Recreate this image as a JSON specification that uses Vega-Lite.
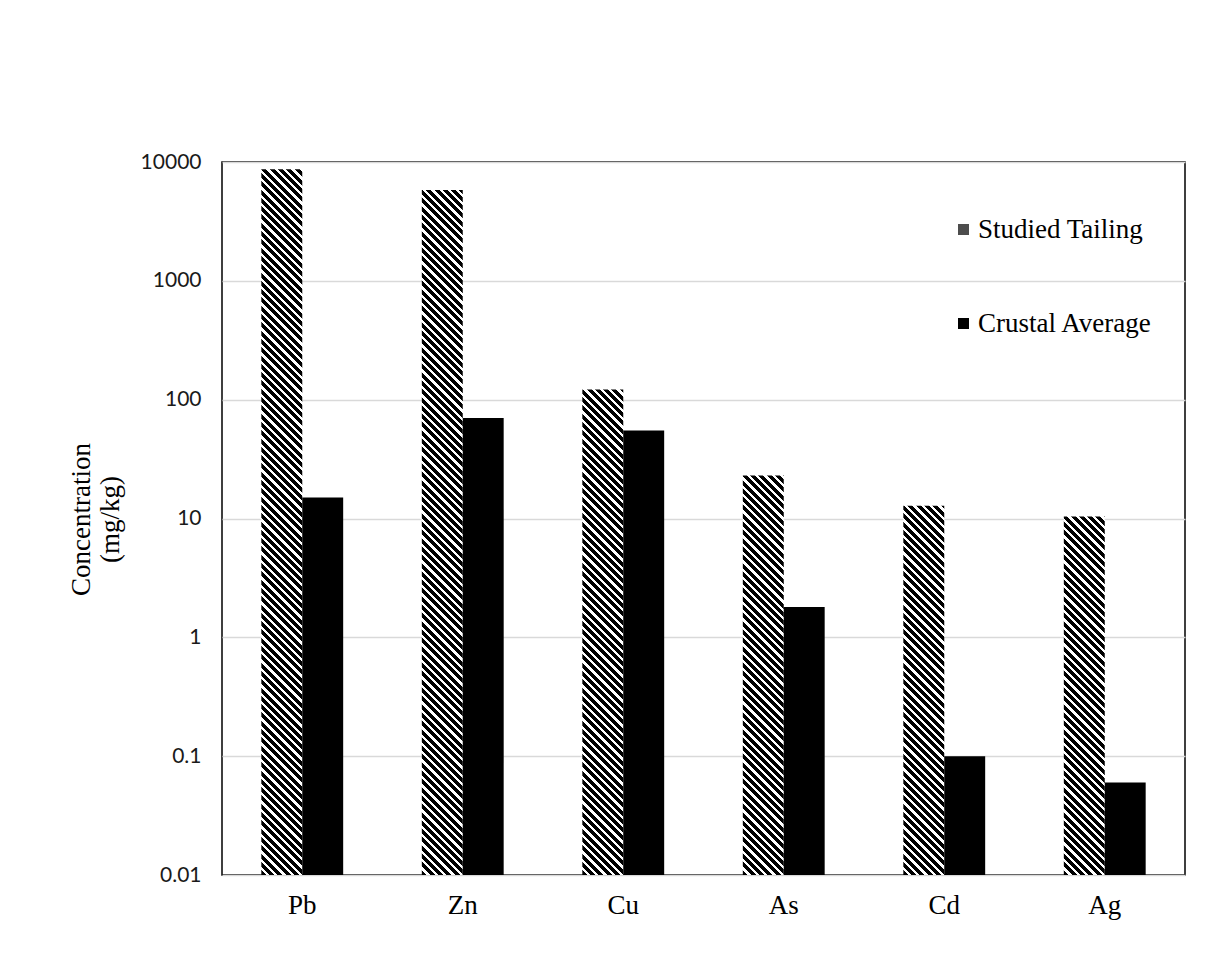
{
  "$schema": "https://vega.github.io/schema/vega-lite/v6.json",
  "width": 963,
  "height": 713,
  "autosize": {"type": "none"},
  "padding": {"left": 222, "top": 162, "right": 29, "bottom": 96},
  "background": "white",
  "params": [
    {
      "name": "hatchStops",
      "value": [
        {"offset":0,"color":"#000"},
        {"offset":0.006,"color":"#000"},{"offset":0.006,"color":"#fff"},{"offset":0.01,"color":"#fff"},{"offset":0.01,"color":"#000"},
        {"offset":0.016,"color":"#000"},{"offset":0.016,"color":"#fff"},{"offset":0.02,"color":"#fff"},{"offset":0.02,"color":"#000"},
        {"offset":0.026,"color":"#000"},{"offset":0.026,"color":"#fff"},{"offset":0.03,"color":"#fff"},{"offset":0.03,"color":"#000"},
        {"offset":0.036,"color":"#000"},{"offset":0.036,"color":"#fff"},{"offset":0.04,"color":"#fff"},{"offset":0.04,"color":"#000"},
        {"offset":0.046,"color":"#000"},{"offset":0.046,"color":"#fff"},{"offset":0.05,"color":"#fff"},{"offset":0.05,"color":"#000"},
        {"offset":0.056,"color":"#000"},{"offset":0.056,"color":"#fff"},{"offset":0.06,"color":"#fff"},{"offset":0.06,"color":"#000"},
        {"offset":0.066,"color":"#000"},{"offset":0.066,"color":"#fff"},{"offset":0.07,"color":"#fff"},{"offset":0.07,"color":"#000"},
        {"offset":0.076,"color":"#000"},{"offset":0.076,"color":"#fff"},{"offset":0.08,"color":"#fff"},{"offset":0.08,"color":"#000"},
        {"offset":0.086,"color":"#000"},{"offset":0.086,"color":"#fff"},{"offset":0.09,"color":"#fff"},{"offset":0.09,"color":"#000"},
        {"offset":0.096,"color":"#000"},{"offset":0.096,"color":"#fff"},{"offset":0.1,"color":"#fff"},{"offset":0.1,"color":"#000"},
        {"offset":0.106,"color":"#000"},{"offset":0.106,"color":"#fff"},{"offset":0.11,"color":"#fff"},{"offset":0.11,"color":"#000"},
        {"offset":0.116,"color":"#000"},{"offset":0.116,"color":"#fff"},{"offset":0.12,"color":"#fff"},{"offset":0.12,"color":"#000"},
        {"offset":0.126,"color":"#000"},{"offset":0.126,"color":"#fff"},{"offset":0.13,"color":"#fff"},{"offset":0.13,"color":"#000"},
        {"offset":0.136,"color":"#000"},{"offset":0.136,"color":"#fff"},{"offset":0.14,"color":"#fff"},{"offset":0.14,"color":"#000"},
        {"offset":0.146,"color":"#000"},{"offset":0.146,"color":"#fff"},{"offset":0.15,"color":"#fff"},{"offset":0.15,"color":"#000"},
        {"offset":0.156,"color":"#000"},{"offset":0.156,"color":"#fff"},{"offset":0.16,"color":"#fff"},{"offset":0.16,"color":"#000"},
        {"offset":0.166,"color":"#000"},{"offset":0.166,"color":"#fff"},{"offset":0.17,"color":"#fff"},{"offset":0.17,"color":"#000"},
        {"offset":0.176,"color":"#000"},{"offset":0.176,"color":"#fff"},{"offset":0.18,"color":"#fff"},{"offset":0.18,"color":"#000"},
        {"offset":0.186,"color":"#000"},{"offset":0.186,"color":"#fff"},{"offset":0.19,"color":"#fff"},{"offset":0.19,"color":"#000"},
        {"offset":0.196,"color":"#000"},{"offset":0.196,"color":"#fff"},{"offset":0.2,"color":"#fff"},{"offset":0.2,"color":"#000"},
        {"offset":0.206,"color":"#000"},{"offset":0.206,"color":"#fff"},{"offset":0.21,"color":"#fff"},{"offset":0.21,"color":"#000"},
        {"offset":0.216,"color":"#000"},{"offset":0.216,"color":"#fff"},{"offset":0.22,"color":"#fff"},{"offset":0.22,"color":"#000"},
        {"offset":0.226,"color":"#000"},{"offset":0.226,"color":"#fff"},{"offset":0.23,"color":"#fff"},{"offset":0.23,"color":"#000"},
        {"offset":0.236,"color":"#000"},{"offset":0.236,"color":"#fff"},{"offset":0.24,"color":"#fff"},{"offset":0.24,"color":"#000"},
        {"offset":0.246,"color":"#000"},{"offset":0.246,"color":"#fff"},{"offset":0.25,"color":"#fff"},{"offset":0.25,"color":"#000"},
        {"offset":0.256,"color":"#000"},{"offset":0.256,"color":"#fff"},{"offset":0.26,"color":"#fff"},{"offset":0.26,"color":"#000"},
        {"offset":0.266,"color":"#000"},{"offset":0.266,"color":"#fff"},{"offset":0.27,"color":"#fff"},{"offset":0.27,"color":"#000"},
        {"offset":0.276,"color":"#000"},{"offset":0.276,"color":"#fff"},{"offset":0.28,"color":"#fff"},{"offset":0.28,"color":"#000"},
        {"offset":0.286,"color":"#000"},{"offset":0.286,"color":"#fff"},{"offset":0.29,"color":"#fff"},{"offset":0.29,"color":"#000"},
        {"offset":0.296,"color":"#000"},{"offset":0.296,"color":"#fff"},{"offset":0.3,"color":"#fff"},{"offset":0.3,"color":"#000"},
        {"offset":0.306,"color":"#000"},{"offset":0.306,"color":"#fff"},{"offset":0.31,"color":"#fff"},{"offset":0.31,"color":"#000"},
        {"offset":0.316,"color":"#000"},{"offset":0.316,"color":"#fff"},{"offset":0.32,"color":"#fff"},{"offset":0.32,"color":"#000"},
        {"offset":0.326,"color":"#000"},{"offset":0.326,"color":"#fff"},{"offset":0.33,"color":"#fff"},{"offset":0.33,"color":"#000"},
        {"offset":0.336,"color":"#000"},{"offset":0.336,"color":"#fff"},{"offset":0.34,"color":"#fff"},{"offset":0.34,"color":"#000"},
        {"offset":0.346,"color":"#000"},{"offset":0.346,"color":"#fff"},{"offset":0.35,"color":"#fff"},{"offset":0.35,"color":"#000"},
        {"offset":0.356,"color":"#000"},{"offset":0.356,"color":"#fff"},{"offset":0.36,"color":"#fff"},{"offset":0.36,"color":"#000"},
        {"offset":0.366,"color":"#000"},{"offset":0.366,"color":"#fff"},{"offset":0.37,"color":"#fff"},{"offset":0.37,"color":"#000"},
        {"offset":0.376,"color":"#000"},{"offset":0.376,"color":"#fff"},{"offset":0.38,"color":"#fff"},{"offset":0.38,"color":"#000"},
        {"offset":0.386,"color":"#000"},{"offset":0.386,"color":"#fff"},{"offset":0.39,"color":"#fff"},{"offset":0.39,"color":"#000"},
        {"offset":0.396,"color":"#000"},{"offset":0.396,"color":"#fff"},{"offset":0.4,"color":"#fff"},{"offset":0.4,"color":"#000"},
        {"offset":0.406,"color":"#000"},{"offset":0.406,"color":"#fff"},{"offset":0.41,"color":"#fff"},{"offset":0.41,"color":"#000"},
        {"offset":0.416,"color":"#000"},{"offset":0.416,"color":"#fff"},{"offset":0.42,"color":"#fff"},{"offset":0.42,"color":"#000"},
        {"offset":0.426,"color":"#000"},{"offset":0.426,"color":"#fff"},{"offset":0.43,"color":"#fff"},{"offset":0.43,"color":"#000"},
        {"offset":0.436,"color":"#000"},{"offset":0.436,"color":"#fff"},{"offset":0.44,"color":"#fff"},{"offset":0.44,"color":"#000"},
        {"offset":0.446,"color":"#000"},{"offset":0.446,"color":"#fff"},{"offset":0.45,"color":"#fff"},{"offset":0.45,"color":"#000"},
        {"offset":0.456,"color":"#000"},{"offset":0.456,"color":"#fff"},{"offset":0.46,"color":"#fff"},{"offset":0.46,"color":"#000"},
        {"offset":0.466,"color":"#000"},{"offset":0.466,"color":"#fff"},{"offset":0.47,"color":"#fff"},{"offset":0.47,"color":"#000"},
        {"offset":0.476,"color":"#000"},{"offset":0.476,"color":"#fff"},{"offset":0.48,"color":"#fff"},{"offset":0.48,"color":"#000"},
        {"offset":0.486,"color":"#000"},{"offset":0.486,"color":"#fff"},{"offset":0.49,"color":"#fff"},{"offset":0.49,"color":"#000"},
        {"offset":0.496,"color":"#000"},{"offset":0.496,"color":"#fff"},{"offset":0.5,"color":"#fff"},{"offset":0.5,"color":"#000"},
        {"offset":0.506,"color":"#000"},{"offset":0.506,"color":"#fff"},{"offset":0.51,"color":"#fff"},{"offset":0.51,"color":"#000"},
        {"offset":0.516,"color":"#000"},{"offset":0.516,"color":"#fff"},{"offset":0.52,"color":"#fff"},{"offset":0.52,"color":"#000"},
        {"offset":0.526,"color":"#000"},{"offset":0.526,"color":"#fff"},{"offset":0.53,"color":"#fff"},{"offset":0.53,"color":"#000"},
        {"offset":0.536,"color":"#000"},{"offset":0.536,"color":"#fff"},{"offset":0.54,"color":"#fff"},{"offset":0.54,"color":"#000"},
        {"offset":0.546,"color":"#000"},{"offset":0.546,"color":"#fff"},{"offset":0.55,"color":"#fff"},{"offset":0.55,"color":"#000"},
        {"offset":0.556,"color":"#000"},{"offset":0.556,"color":"#fff"},{"offset":0.56,"color":"#fff"},{"offset":0.56,"color":"#000"},
        {"offset":0.566,"color":"#000"},{"offset":0.566,"color":"#fff"},{"offset":0.57,"color":"#fff"},{"offset":0.57,"color":"#000"},
        {"offset":0.576,"color":"#000"},{"offset":0.576,"color":"#fff"},{"offset":0.58,"color":"#fff"},{"offset":0.58,"color":"#000"},
        {"offset":0.586,"color":"#000"},{"offset":0.586,"color":"#fff"},{"offset":0.59,"color":"#fff"},{"offset":0.59,"color":"#000"},
        {"offset":0.596,"color":"#000"},{"offset":0.596,"color":"#fff"},{"offset":0.6,"color":"#fff"},{"offset":0.6,"color":"#000"},
        {"offset":0.606,"color":"#000"},{"offset":0.606,"color":"#fff"},{"offset":0.61,"color":"#fff"},{"offset":0.61,"color":"#000"},
        {"offset":0.616,"color":"#000"},{"offset":0.616,"color":"#fff"},{"offset":0.62,"color":"#fff"},{"offset":0.62,"color":"#000"},
        {"offset":0.626,"color":"#000"},{"offset":0.626,"color":"#fff"},{"offset":0.63,"color":"#fff"},{"offset":0.63,"color":"#000"},
        {"offset":0.636,"color":"#000"},{"offset":0.636,"color":"#fff"},{"offset":0.64,"color":"#fff"},{"offset":0.64,"color":"#000"},
        {"offset":0.646,"color":"#000"},{"offset":0.646,"color":"#fff"},{"offset":0.65,"color":"#fff"},{"offset":0.65,"color":"#000"},
        {"offset":0.656,"color":"#000"},{"offset":0.656,"color":"#fff"},{"offset":0.66,"color":"#fff"},{"offset":0.66,"color":"#000"},
        {"offset":0.666,"color":"#000"},{"offset":0.666,"color":"#fff"},{"offset":0.67,"color":"#fff"},{"offset":0.67,"color":"#000"},
        {"offset":0.676,"color":"#000"},{"offset":0.676,"color":"#fff"},{"offset":0.68,"color":"#fff"},{"offset":0.68,"color":"#000"},
        {"offset":0.686,"color":"#000"},{"offset":0.686,"color":"#fff"},{"offset":0.69,"color":"#fff"},{"offset":0.69,"color":"#000"},
        {"offset":0.696,"color":"#000"},{"offset":0.696,"color":"#fff"},{"offset":0.7,"color":"#fff"},{"offset":0.7,"color":"#000"},
        {"offset":0.706,"color":"#000"},{"offset":0.706,"color":"#fff"},{"offset":0.71,"color":"#fff"},{"offset":0.71,"color":"#000"},
        {"offset":0.716,"color":"#000"},{"offset":0.716,"color":"#fff"},{"offset":0.72,"color":"#fff"},{"offset":0.72,"color":"#000"},
        {"offset":0.726,"color":"#000"},{"offset":0.726,"color":"#fff"},{"offset":0.73,"color":"#fff"},{"offset":0.73,"color":"#000"},
        {"offset":0.736,"color":"#000"},{"offset":0.736,"color":"#fff"},{"offset":0.74,"color":"#fff"},{"offset":0.74,"color":"#000"},
        {"offset":0.746,"color":"#000"},{"offset":0.746,"color":"#fff"},{"offset":0.75,"color":"#fff"},{"offset":0.75,"color":"#000"},
        {"offset":0.756,"color":"#000"},{"offset":0.756,"color":"#fff"},{"offset":0.76,"color":"#fff"},{"offset":0.76,"color":"#000"},
        {"offset":0.766,"color":"#000"},{"offset":0.766,"color":"#fff"},{"offset":0.77,"color":"#fff"},{"offset":0.77,"color":"#000"},
        {"offset":0.776,"color":"#000"},{"offset":0.776,"color":"#fff"},{"offset":0.78,"color":"#fff"},{"offset":0.78,"color":"#000"},
        {"offset":0.786,"color":"#000"},{"offset":0.786,"color":"#fff"},{"offset":0.79,"color":"#fff"},{"offset":0.79,"color":"#000"},
        {"offset":0.796,"color":"#000"},{"offset":0.796,"color":"#fff"},{"offset":0.8,"color":"#fff"},{"offset":0.8,"color":"#000"},
        {"offset":0.806,"color":"#000"},{"offset":0.806,"color":"#fff"},{"offset":0.81,"color":"#fff"},{"offset":0.81,"color":"#000"},
        {"offset":0.816,"color":"#000"},{"offset":0.816,"color":"#fff"},{"offset":0.82,"color":"#fff"},{"offset":0.82,"color":"#000"},
        {"offset":0.826,"color":"#000"},{"offset":0.826,"color":"#fff"},{"offset":0.83,"color":"#fff"},{"offset":0.83,"color":"#000"},
        {"offset":0.836,"color":"#000"},{"offset":0.836,"color":"#fff"},{"offset":0.84,"color":"#fff"},{"offset":0.84,"color":"#000"},
        {"offset":0.846,"color":"#000"},{"offset":0.846,"color":"#fff"},{"offset":0.85,"color":"#fff"},{"offset":0.85,"color":"#000"},
        {"offset":0.856,"color":"#000"},{"offset":0.856,"color":"#fff"},{"offset":0.86,"color":"#fff"},{"offset":0.86,"color":"#000"},
        {"offset":0.866,"color":"#000"},{"offset":0.866,"color":"#fff"},{"offset":0.87,"color":"#fff"},{"offset":0.87,"color":"#000"},
        {"offset":0.876,"color":"#000"},{"offset":0.876,"color":"#fff"},{"offset":0.88,"color":"#fff"},{"offset":0.88,"color":"#000"},
        {"offset":0.886,"color":"#000"},{"offset":0.886,"color":"#fff"},{"offset":0.89,"color":"#fff"},{"offset":0.89,"color":"#000"},
        {"offset":0.896,"color":"#000"},{"offset":0.896,"color":"#fff"},{"offset":0.9,"color":"#fff"},{"offset":0.9,"color":"#000"},
        {"offset":0.906,"color":"#000"},{"offset":0.906,"color":"#fff"},{"offset":0.91,"color":"#fff"},{"offset":0.91,"color":"#000"},
        {"offset":0.916,"color":"#000"},{"offset":0.916,"color":"#fff"}
      ]
    }
  ],
  "data": {
    "values": [
      {"element": "Pb", "series": "Studied Tailing", "value": 8700},
      {"element": "Pb", "series": "Crustal Average", "value": 15},
      {"element": "Zn", "series": "Studied Tailing", "value": 5800},
      {"element": "Zn", "series": "Crustal Average", "value": 70},
      {"element": "Cu", "series": "Studied Tailing", "value": 122},
      {"element": "Cu", "series": "Crustal Average", "value": 55},
      {"element": "As", "series": "Studied Tailing", "value": 23},
      {"element": "As", "series": "Crustal Average", "value": 1.8},
      {"element": "Cd", "series": "Studied Tailing", "value": 12.8},
      {"element": "Cd", "series": "Crustal Average", "value": 0.1},
      {"element": "Ag", "series": "Studied Tailing", "value": 10.4},
      {"element": "Ag", "series": "Crustal Average", "value": 0.06}
    ]
  },
  "mark": {"type": "bar"},
  "encoding": {
    "x": {
      "field": "element",
      "type": "nominal",
      "sort": ["Pb", "Zn", "Cu", "As", "Cd", "Ag"],
      "scale": {"paddingInner": 0.49, "paddingOuter": 0.245},
      "axis": {
        "title": null,
        "labelAngle": 0,
        "ticks": false,
        "domain": false,
        "labelFont": "Liberation Serif",
        "labelFontSize": 27,
        "labelColor": "#000000",
        "labelPadding": 17
      }
    },
    "xOffset": {
      "field": "series",
      "type": "nominal",
      "sort": ["Studied Tailing", "Crustal Average"],
      "scale": {"paddingInner": 0, "paddingOuter": 0}
    },
    "y": {
      "field": "value",
      "type": "quantitative",
      "stack": null,
      "scale": {"type": "log", "domain": [0.01, 10000], "nice": false},
      "axis": {
        "values": [0.01, 0.1, 1, 10, 100, 1000, 10000],
        "format": "~g",
        "ticks": false,
        "domain": false,
        "grid": true,
        "gridColor": "#d9d9d9",
        "gridWidth": 1.5,
        "labelFont": "Lato",
        "labelFontSize": 21,
        "labelColor": "#1a1a1a",
        "labelPadding": 21,
        "title": ["Concentration", "(mg/kg)"],
        "titleFont": "Liberation Serif",
        "titleFontSize": 27,
        "titleFontWeight": "normal",
        "titleColor": "#000000",
        "titleLineHeight": 29,
        "titleAngle": -90,
        "titleAlign": "center",
        "titleBaseline": "bottom",
        "titleX": -127,
        "titleY": 357
      }
    },
    "fill": {
      "field": "series",
      "type": "nominal",
      "scale": {
        "domain": ["Studied Tailing", "Crustal Average"],
        "range": ["#4d4d4d", "#000000"]
      },
      "condition": {
        "test": "datum.series === 'Studied Tailing'",
        "value": {
          "expr": "{gradient: 'linear', x1: 0, y1: 1, x2: 830 * bandwidth('xOffset') / (pow(bandwidth('xOffset'), 2) + pow(scale('y', 0.01) - scale('y', datum.value), 2)), y2: 1 - 830 * (scale('y', 0.01) - scale('y', datum.value)) / (pow(bandwidth('xOffset'), 2) + pow(scale('y', 0.01) - scale('y', datum.value), 2)), stops: hatchStops}"
        }
      },
      "legend": {
        "title": null,
        "orient": "none",
        "legendX": 728,
        "legendY": 54,
        "direction": "vertical",
        "padding": 0,
        "symbolType": "square",
        "symbolSize": 121,
        "symbolStrokeWidth": 0,
        "labelFont": "Liberation Serif",
        "labelFontSize": 27,
        "labelColor": "#000000",
        "labelOffset": 1,
        "labelLimit": 400,
        "rowPadding": 66
      }
    }
  },
  "config": {
    "view": {"stroke": "#000000", "strokeWidth": 1.5}
  }
}
